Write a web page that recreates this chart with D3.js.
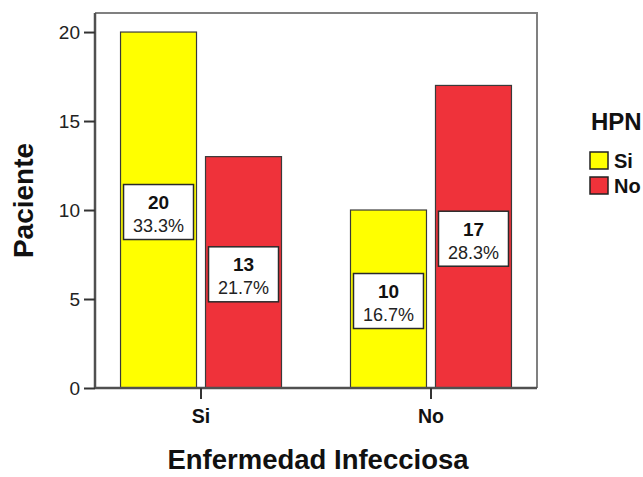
<!DOCTYPE html>
<html>
<head>
<meta charset="utf-8">
<script src="https://cdn.jsdelivr.net/npm/d3@7"></script>
<style>
  html, body { margin: 0; padding: 0; background: #fff; }
  svg { display: block; font-family: "Liberation Sans", Arial, sans-serif; }
</style>
</head>
<body>
<svg id="chart" width="643" height="477"></svg>
<script>
// Enfermedad Infecciosa (x categories) split by HPN (legend groups)
const categories = ["Si", "No"];
const hpnGroups = ["Si", "No"];
const countsHpnSi = [20, 10];
const countsHpnNo = [13, 17];
const yTicks = [0, 5, 10, 15, 20];
const groupColors = ["#FFFF00", "#EF323A"];

const svg = d3.select("#chart");
const frame = { left: 95, right: 537, top: 13, bottom: 388 };
const total = d3.sum(countsHpnSi) + d3.sum(countsHpnNo);

const x0 = d3.scaleBand().domain(categories)
  .range([frame.left, frame.right]).paddingInner(0.30).paddingOuter(0.111);
const x1 = d3.scaleBand().domain(hpnGroups)
  .range([0, x0.bandwidth()]).paddingInner(0.106).paddingOuter(0);
const y = d3.scaleLinear().domain([0, 21.07]).range([frame.bottom, frame.top]);
const color = d3.scaleOrdinal().domain(hpnGroups).range(groupColors);

const rows = categories.map((c, i) => ({
  cat: c,
  vals: [
    { grp: hpnGroups[0], v: countsHpnSi[i] },
    { grp: hpnGroups[1], v: countsHpnNo[i] }
  ]
}));

// plot frame (top and right sides)
svg.append("path")
  .attr("d", `M${frame.left},${frame.top}H${frame.right}V${frame.bottom}`)
  .attr("fill", "none").attr("stroke", "#808080").attr("stroke-width", 2);

// bars
const g = svg.selectAll("g.cat").data(rows).join("g")
  .attr("class", "cat")
  .attr("transform", d => `translate(${x0(d.cat)},0)`);

g.selectAll("rect.bar").data(d => d.vals).join("rect")
  .attr("class", "bar")
  .attr("x", d => x1(d.grp))
  .attr("y", d => y(d.v))
  .attr("width", x1.bandwidth())
  .attr("height", d => y(0) - y(d.v))
  .attr("fill", d => color(d.grp))
  .attr("stroke", "#3a3a3a").attr("stroke-width", 1.2);

// value labels: count and percentage in a white box
const lab = g.selectAll("g.lab").data(d => d.vals).join("g")
  .attr("class", "lab")
  .attr("transform", d => `translate(${x1(d.grp) + x1.bandwidth() / 2},${y(d.v / 2) + 2})`);

lab.append("rect")
  .attr("x", -(x1.bandwidth() - 6) / 2).attr("y", -27.5)
  .attr("width", x1.bandwidth() - 6).attr("height", 55)
  .attr("fill", "#fff").attr("stroke", "#2a2a2a").attr("stroke-width", 1.5);

lab.append("text")
  .attr("text-anchor", "middle").attr("y", -3)
  .attr("font-size", 19).attr("font-weight", "bold").attr("fill", "#111")
  .text(d => d.v);

lab.append("text")
  .attr("text-anchor", "middle").attr("y", 20)
  .attr("font-size", 18).attr("fill", "#222")
  .text(d => (d.v / total * 100).toFixed(1) + "%");

// y axis
const yAxis = svg.append("g")
  .attr("transform", `translate(${frame.left},0)`)
  .call(d3.axisLeft(y).tickValues(yTicks).tickSize(11).tickSizeOuter(0).tickPadding(4));
yAxis.select(".domain").attr("stroke", "#505050").attr("stroke-width", 2.5)
  .attr("d", `M0,${frame.top}V${frame.bottom}`);
yAxis.selectAll(".tick line").attr("stroke", "#333").attr("stroke-width", 2);
yAxis.selectAll(".tick text").attr("font-size", 19).attr("fill", "#222")
  .attr("font-family", "'Liberation Sans', Arial, sans-serif");

// x axis
const xAxis = svg.append("g")
  .attr("transform", `translate(0,${frame.bottom})`)
  .call(d3.axisBottom(x0).tickSize(11).tickSizeOuter(0).tickPadding(10));
xAxis.select(".domain").attr("stroke", "#505050").attr("stroke-width", 2.5)
  .attr("d", `M${frame.left},0H${frame.right}`);
xAxis.selectAll(".tick line").attr("stroke", "#333").attr("stroke-width", 2);
xAxis.selectAll(".tick text").attr("font-size", 19.5).attr("font-weight", "bold")
  .attr("fill", "#111").attr("font-family", "'Liberation Sans', Arial, sans-serif");

// axis titles
svg.append("text")
  .attr("x", (frame.left + frame.right) / 2 + 2).attr("y", 469)
  .attr("text-anchor", "middle").attr("font-size", 27.5).attr("font-weight", "bold")
  .attr("fill", "#111").text("Enfermedad Infecciosa");

svg.append("text")
  .attr("transform", `translate(33,${(frame.top + frame.bottom) / 2}) rotate(-90)`)
  .attr("text-anchor", "middle").attr("font-size", 28).attr("font-weight", "bold")
  .attr("fill", "#111").text("Paciente");

// legend
const legend = svg.append("g").attr("transform", "translate(590,130)");
legend.append("text").attr("x", 1).attr("y", 0)
  .attr("font-size", 24).attr("font-weight", "bold").attr("fill", "#111").text("HPN");
const li = legend.selectAll("g.item").data(hpnGroups).join("g")
  .attr("class", "item")
  .attr("transform", (d, i) => `translate(0,${22 + i * 25})`);
li.append("rect").attr("width", 18).attr("height", 17)
  .attr("fill", d => color(d)).attr("stroke", "#222").attr("stroke-width", 1.5);
li.append("text").attr("x", 24).attr("y", 16)
  .attr("font-size", 20).attr("font-weight", "bold").attr("fill", "#111").text(d => d);
</script>
</body>
</html>
